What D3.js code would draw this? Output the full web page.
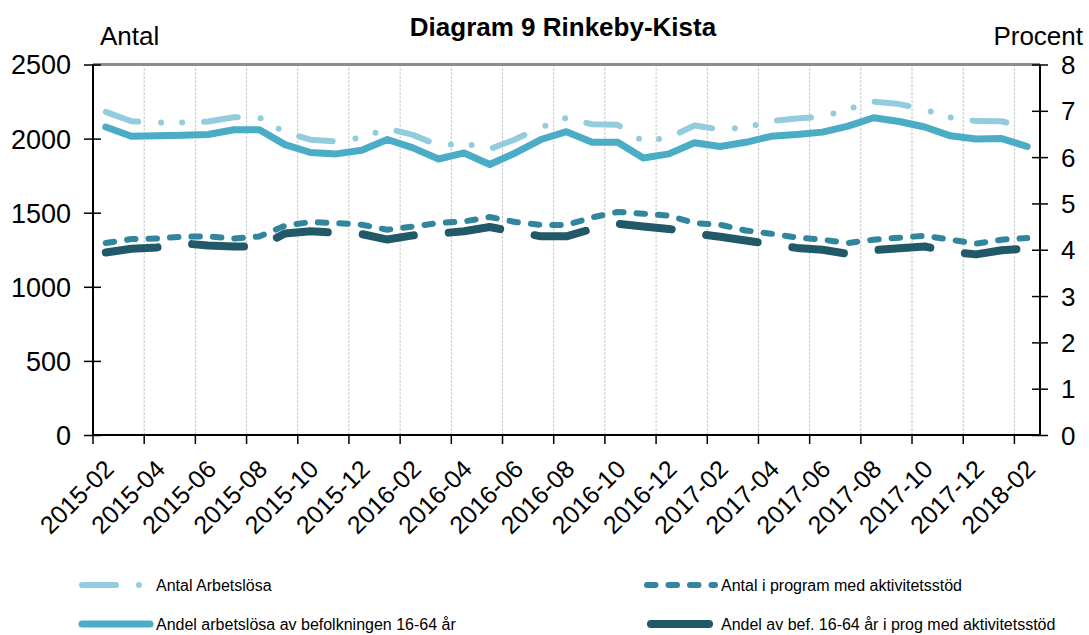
<!DOCTYPE html>
<html>
<head>
<meta charset="utf-8">
<script src="https://cdn.jsdelivr.net/npm/d3@7"></script>
<style>
  body { margin: 0; background: #fff; }
  svg { font-family: "Liberation Sans", Arial, sans-serif; }
</style>
</head>
<body>
<svg width="1089" height="635"></svg>
<script>
// months on the x axis
const months = ['2015-02', '2015-03', '2015-04', '2015-05', '2015-06', '2015-07', '2015-08',
  '2015-09', '2015-10', '2015-11', '2015-12', '2016-01', '2016-02', '2016-03', '2016-04',
  '2016-05', '2016-06', '2016-07', '2016-08', '2016-09', '2016-10', '2016-11', '2016-12',
  '2017-01', '2017-02', '2017-03', '2017-04', '2017-05', '2017-06', '2017-07', '2017-08',
  '2017-09', '2017-10', '2017-11', '2017-12', '2018-01', '2018-02'];

// left axis (Antal)
const antalArbetslosa = [2180, 2117, 2108, 2108, 2115, 2144, 2142, 2041, 1993, 1980, 2007, 2068,
  2025, 1954, 1968, 1929, 1995, 2076, 2140, 2097, 2093, 1980, 2007, 2088, 2061, 2076, 2118, 2135,
  2147, 2199, 2250, 2233, 2196, 2142, 2118, 2117, 2072];
const antalProgram = [1295, 1322, 1326, 1338, 1340, 1326, 1340, 1412, 1437, 1430, 1419, 1385,
  1407, 1430, 1441, 1471, 1437, 1417, 1417, 1468, 1505, 1493, 1480, 1430, 1419, 1380, 1358, 1333,
  1318, 1295, 1318, 1331, 1345, 1318, 1291, 1318, 1329];

// right axis (Procent)
const andelArbetslosa = [6.65, 6.45, 6.46, 6.47, 6.49, 6.59, 6.59, 6.27, 6.10, 6.07, 6.15, 6.38,
  6.20, 5.96, 6.09, 5.84, 6.09, 6.38, 6.55, 6.32, 6.32, 5.98, 6.07, 6.31, 6.23, 6.32, 6.45, 6.49,
  6.54, 6.67, 6.85, 6.77, 6.65, 6.46, 6.39, 6.40, 6.23];
const andelProgram = [3.94, 4.02, 4.05, 4.14, 4.09, 4.07, 4.07, 4.35, 4.40, 4.37, 4.34, 4.22,
  4.31, 4.35, 4.40, 4.49, 4.39, 4.29, 4.29, 4.45, 4.56, 4.50, 4.45, 4.35, 4.28, 4.20, 4.12, 4.04,
  4.00, 3.91, 3.99, 4.03, 4.07, 3.96, 3.90, 3.99, 4.03];

const leftTicks = [0, 500, 1000, 1500, 2000, 2500];
const rightTicks = [0, 1, 2, 3, 4, 5, 6, 7, 8];

const svg = d3.select('svg');
const plotLeft = 93, plotRight = 1040, plotTop = 64.5, plotBottom = 435;

const x = d3.scaleBand().domain(months).range([plotLeft, plotRight]).paddingInner(0).paddingOuter(0);
const cx = (m) => x(m) + x.bandwidth() / 2;
const yL = d3.scaleLinear().domain([0, 2500]).range([plotBottom, plotTop]);
const yR = d3.scaleLinear().domain([0, 8]).range([plotBottom, plotTop]);

const tickMonths = months.filter((d, i) => i % 2 === 0);

// vertical dotted gridlines
svg.append('g')
    .selectAll('line')
    .data(tickMonths.slice(1))
    .enter()
    .append('line')
    .attr('x1', (d) => x(d)).attr('x2', (d) => x(d))
    .attr('y1', plotTop).attr('y2', plotBottom)
    .style('stroke', '#b4b4b4')
    .style('stroke-width', 1)
    .style('stroke-dasharray', '2,2');

// top gridline
svg.append('line')
    .attr('x1', plotLeft).attr('x2', plotRight)
    .attr('y1', yL(2500)).attr('y2', yL(2500))
    .style('stroke', '#8c8c8c')
    .style('stroke-width', 3);

// axes
const axisL = svg.append('g')
    .attr('transform', `translate(${plotLeft},0)`)
    .call(d3.axisLeft(yL).tickValues(leftTicks).tickFormat(d3.format('d'))
        .tickSize(9).tickPadding(13));
axisL.selectAll('.tick line').attr('x2', -9).attr('x1', 8);
axisL.selectAll('text').style('font-size', '27px').attr('dy', '0.35em');

const axisR = svg.append('g')
    .attr('transform', `translate(${plotRight},0)`)
    .call(d3.axisRight(yR).tickValues(rightTicks).tickSize(8).tickPadding(13));
axisR.selectAll('.tick line').attr('x1', -8).attr('x2', 8);
axisR.selectAll('text').style('font-size', '26px').attr('dy', '0.35em');

const axisB = svg.append('g')
    .attr('transform', `translate(0,${plotBottom})`)
    .call(d3.axisBottom(x).tickValues(tickMonths).tickSize(9).tickFormat(''));
axisB.selectAll('.tick').attr('transform', (d) => `translate(${x(d)},0)`);

svg.selectAll('.domain').style('stroke', '#000').style('stroke-width', 2);
svg.selectAll('.tick line').style('stroke', '#000').style('stroke-width', 1.5);
svg.selectAll('.tick text').style('fill', '#000')
    .style('font-family', '"Liberation Sans", Arial, sans-serif');
// plain domain lines without end caps
axisL.select('.domain').attr('d', `M0,${plotBottom}V${plotTop}`);
axisR.select('.domain').attr('d', `M0,${plotBottom}V${plotTop}`);
axisB.select('.domain').attr('d', `M${plotLeft},0H${plotRight}`);

// rotated x labels
svg.append('g')
    .selectAll('text')
    .data(tickMonths)
    .enter()
    .append('text')
    .attr('transform', (d) => `translate(${cx(d) - 3},458) rotate(-45)`)
    .attr('text-anchor', 'end')
    .attr('dy', '0.71em')
    .style('font-size', '25px')
    .text((d) => d);

// series
const series = [
  {name: 'Antal Arbetslösa', values: antalArbetslosa, y: yL, color: '#93cddd',
    width: 6, dash: '34,23,0,21,0,22'},
  {name: 'Andel arbetslösa av befolkningen 16-64 år', values: andelArbetslosa, y: yR,
    color: '#4bacc6', width: 7, dash: null},
  {name: 'Antal i program med aktivitetsstöd', values: antalProgram, y: yL, color: '#31859c',
    width: 6, dash: '8.5,13'},
  {name: 'Andel av bef. 16-64 år i prog med aktivitetsstöd', values: andelProgram, y: yR,
    color: '#215968', width: 8, dash: '52,35'},
];

series.forEach(function(s) {
  const line = d3.line()
      .x((d, i) => cx(months[i]))
      .y((d) => s.y(d));
  svg.append('path')
      .datum(s.values)
      .attr('d', line)
      .style('fill', 'none')
      .style('stroke', s.color)
      .style('stroke-width', s.width)
      .style('stroke-linecap', 'round')
      .style('stroke-linejoin', 'round')
      .style('stroke-dasharray', s.dash);
});

// titles
svg.append('text')
    .attr('x', 563).attr('y', 36)
    .attr('text-anchor', 'middle')
    .style('font-size', '26px')
    .style('font-weight', 'bold')
    .text('Diagram 9 Rinkeby-Kista');
svg.append('text')
    .attr('x', 100).attr('y', 45)
    .style('font-size', '26px')
    .text('Antal');
svg.append('text')
    .attr('x', 1083).attr('y', 45)
    .attr('text-anchor', 'end')
    .style('font-size', '26px')
    .text('Procent');

// legend
const legendPos = [[82, 585], [82, 624], [647, 585], [647, 624]];
const legend = svg.append('g')
    .selectAll('g')
    .data(series)
    .enter()
    .append('g')
    .attr('transform', (d, i) => `translate(${legendPos[i][0]},${legendPos[i][1]})`);
legend.append('line')
    .attr('x1', (d, i) => i === 3 ? 4 : 0)
    .attr('x2', (d, i) => i === 3 ? 62 : 68)
    .style('stroke', (d) => d.color)
    .style('stroke-width', (d) => d.width)
    .style('stroke-linecap', 'round')
    .style('stroke-dasharray', (d, i) => i === 3 ? null : d.dash);
legend.append('text')
    .attr('x', 74).attr('dy', '0.35em')
    .style('font-size', '16px')
    .text((d) => d.name);
</script>
</body>
</html>
